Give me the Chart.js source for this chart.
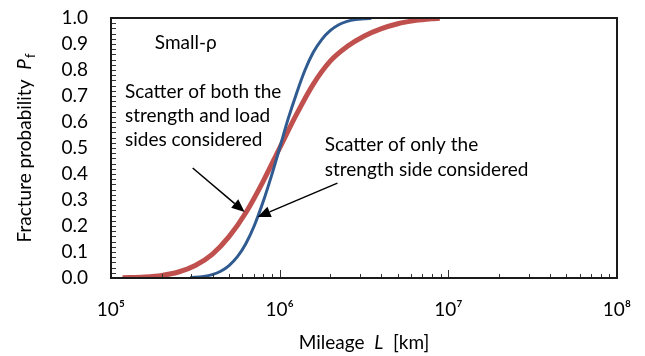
<!DOCTYPE html>
<html>
<head>
<meta charset="utf-8">
<script src="https://cdn.jsdelivr.net/npm/chart.js@4.4.1/dist/chart.umd.min.js"></script>
<style>
  html, body { margin: 0; background: #fff; }
</style>
</head>
<body>
<canvas id="chart" width="645" height="356"></canvas>
<script>
// values (mileage in km, fracture probability)
const strengthOnlyMileage = [2.95e5, 3.55e5, 3.98e5, 4.47e5, 5.01e5, 5.62e5, 6.31e5, 7.08e5, 7.94e5, 8.91e5, 1.0e6,
  1.12e6, 1.26e6, 1.41e6, 1.58e6, 1.78e6, 2.0e6, 2.24e6, 2.51e6, 2.82e6, 3.16e6, 3.5e6];
const strengthOnlyProb = [0.0016, 0.006, 0.013, 0.026, 0.048, 0.082, 0.133, 0.202, 0.289, 0.39, 0.5,
  0.61, 0.711, 0.798, 0.867, 0.918, 0.952, 0.974, 0.987, 0.994, 0.997, 0.999];

const bothSidesMileage = [1.17e5, 1.58e5, 2.0e5, 2.51e5, 3.16e5, 3.98e5, 5.01e5, 6.31e5, 7.94e5, 1.0e6,
  1.26e6, 1.58e6, 2.0e6, 2.51e6, 3.16e6, 3.98e6, 5.01e6, 6.31e6, 7.94e6, 8.9e6];
const bothSidesProb = [0.001, 0.004, 0.010, 0.023, 0.048, 0.091, 0.159, 0.252, 0.369, 0.5,
  0.63, 0.745, 0.835, 0.89, 0.93, 0.958, 0.978, 0.99, 0.997, 0.999];

const xTickValues = [1e5, 1e6, 1e7, 1e8];
const xTickLabels = ["10\u2075", "10\u2076", "10\u2077", "10\u2078"];
const yTickStep = 0.1;

const FONT = "Lato, 'Liberation Sans', sans-serif";
const FSIZE = 19;

function toPoints(xs, ys) {
  return xs.map((x, i) => ({ x: x, y: ys[i] }));
}

// notes and arrows, placed in data units
const notes = [
  { text: "Small-\u03c1", x: 1.82e5, y: 0.905 },
  { text: "Scatter of both the", x: 1.21e5, y: 0.715 },
  { text: "strength and load", x: 1.21e5, y: 0.623 },
  { text: "sides considered", x: 1.21e5, y: 0.531 },
  { text: "Scatter of only the", x: 1.85e6, y: 0.512 },
  { text: "strength side considered", x: 1.85e6, y: 0.415 },
];
const arrows = [
  { from: [3.05e5, 0.423], to: [6.2e5, 0.254] },
  { from: [2.2e6, 0.365], to: [7.4e5, 0.235] },
];

const decor = {
  id: "decor",
  afterDraw(chart) {
    const ctx = chart.ctx;
    const a = chart.chartArea;
    const xs = chart.scales.x, ys = chart.scales.y;
    ctx.save();

    // minor / major ticks pointing inward
    ctx.strokeStyle = "#333";
    ctx.lineWidth = 1;
    ctx.beginPath();
    for (let v = 0.02; v < 1; v += 0.02) {
      const py = Math.round(ys.getPixelForValue(v)) + 0.5;
      ctx.moveTo(a.left, py);
      ctx.lineTo(a.left + 5, py);
    }
    for (let d = 5; d < 8; d++) {
      for (let k = 2; k <= 10; k++) {
        const px = Math.round(xs.getPixelForValue(k * Math.pow(10, d))) + 0.5;
        ctx.moveTo(px, a.bottom);
        ctx.lineTo(px, a.bottom - (k === 10 ? 8 : 4));
      }
    }
    ctx.stroke();

    // plot box
    ctx.strokeStyle = "#1a1a1a";
    ctx.lineWidth = 2;
    ctx.strokeRect(a.left, a.top, a.right - a.left, a.bottom - a.top);

    // notes
    ctx.fillStyle = "#000";
    ctx.font = FSIZE + "px " + FONT;
    ctx.textBaseline = "middle";
    ctx.textAlign = "left";
    notes.forEach(n => {
      ctx.fillText(n.text, xs.getPixelForValue(n.x), ys.getPixelForValue(n.y));
    });

    // arrows
    ctx.strokeStyle = "#000";
    ctx.lineWidth = 1.5;
    arrows.forEach(ar => {
      const x0 = xs.getPixelForValue(ar.from[0]), y0 = ys.getPixelForValue(ar.from[1]);
      const x1 = xs.getPixelForValue(ar.to[0]), y1 = ys.getPixelForValue(ar.to[1]);
      const ang = Math.atan2(y1 - y0, x1 - x0);
      const len = 13, half = 5.5;
      const bx = x1 - len * Math.cos(ang), by = y1 - len * Math.sin(ang);
      ctx.beginPath();
      ctx.moveTo(x0, y0);
      ctx.lineTo(bx, by);
      ctx.stroke();
      ctx.beginPath();
      ctx.moveTo(x1, y1);
      ctx.lineTo(bx + half * Math.sin(ang), by - half * Math.cos(ang));
      ctx.lineTo(bx - half * Math.sin(ang), by + half * Math.cos(ang));
      ctx.closePath();
      ctx.fill();
    });

    // axis titles
    const regular = FSIZE + "px " + FONT, italic = "italic " + FSIZE + "px " + FONT, small = "13px " + FONT;
    ctx.textBaseline = "alphabetic";
    // y title: Fracture probability  P_f
    const t1 = "Fracture probability  ";
    ctx.font = regular; const w1 = ctx.measureText(t1).width;
    ctx.font = italic; const w2 = ctx.measureText("P").width;
    ctx.font = small; const w3 = ctx.measureText("f").width;
    const tot = w1 + w2 + 1 + w3;
    ctx.save();
    ctx.translate(31, (a.top + a.bottom) / 2);
    ctx.rotate(-Math.PI / 2);
    let cx = -tot / 2;
    ctx.font = regular; ctx.fillText(t1, cx, 0); cx += w1;
    ctx.font = italic; ctx.fillText("P", cx, 0); cx += w2 + 1;
    ctx.font = small; ctx.fillText("f", cx, 4);
    ctx.restore();

    // x title: Mileage  L  [km]
    const p1 = "Mileage  ", p3 = "  [km]";
    ctx.font = regular; const m1 = ctx.measureText(p1).width, m3 = ctx.measureText(p3).width;
    ctx.font = italic; const m2 = ctx.measureText("L").width;
    let sx = (a.left + a.right) / 2 - (m1 + m2 + m3) / 2;
    const by = 349;
    ctx.font = regular; ctx.fillText(p1, sx, by); sx += m1;
    ctx.font = italic; ctx.fillText("L", sx, by); sx += m2;
    ctx.font = regular; ctx.fillText(p3, sx, by);

    ctx.restore();
  }
};

new Chart(document.getElementById("chart"), {
  type: "line",
  data: {
    datasets: [
      {
        label: "Scatter of only the strength side considered",
        data: toPoints(strengthOnlyMileage, strengthOnlyProb),
        borderColor: "#2f5b91",
        borderWidth: 3,
        pointRadius: 0,
        cubicInterpolationMode: "monotone",
        fill: false,
      },
      {
        label: "Scatter of both the strength and load sides considered",
        data: toPoints(bothSidesMileage, bothSidesProb),
        borderColor: "#c0504d",
        borderWidth: 5,
        pointRadius: 0,
        cubicInterpolationMode: "monotone",
        fill: false,
      },
    ],
  },
  options: {
    responsive: false,
    devicePixelRatio: 1,
    animation: false,
    layout: { padding: { top: 18, right: 28, left: 0, bottom: 0 } },
    plugins: { legend: { display: false }, tooltip: { enabled: false } },
    scales: {
      x: {
        type: "logarithmic",
        min: 1e5,
        max: 1e8,
        grid: { display: false, drawTicks: false },
        border: { display: false },
        afterBuildTicks: (s) => { s.ticks = xTickValues.map(v => ({ value: v })); },
        afterFit: (s) => { s.height = 78; s.paddingLeft = 0; s.paddingRight = 0; },
        ticks: {
          autoSkip: false,
          maxRotation: 0,
          padding: 20,
          color: "#000",
          font: { family: FONT, size: FSIZE },
          callback: (v) => xTickLabels[xTickValues.indexOf(v)],
        },
      },
      y: {
        min: 0,
        max: 1,
        grid: { display: false, drawTicks: false },
        border: { display: false },
        afterFit: (s) => { s.width = 111; s.paddingTop = 0; s.paddingBottom = 0; },
        ticks: {
          stepSize: yTickStep,
          autoSkip: false,
          padding: 23,
          color: "#000",
          font: { family: FONT, size: FSIZE },
          callback: (v) => v.toFixed(1),
        },
      },
    },
  },
  plugins: [decor],
});
</script>
</body>
</html>
